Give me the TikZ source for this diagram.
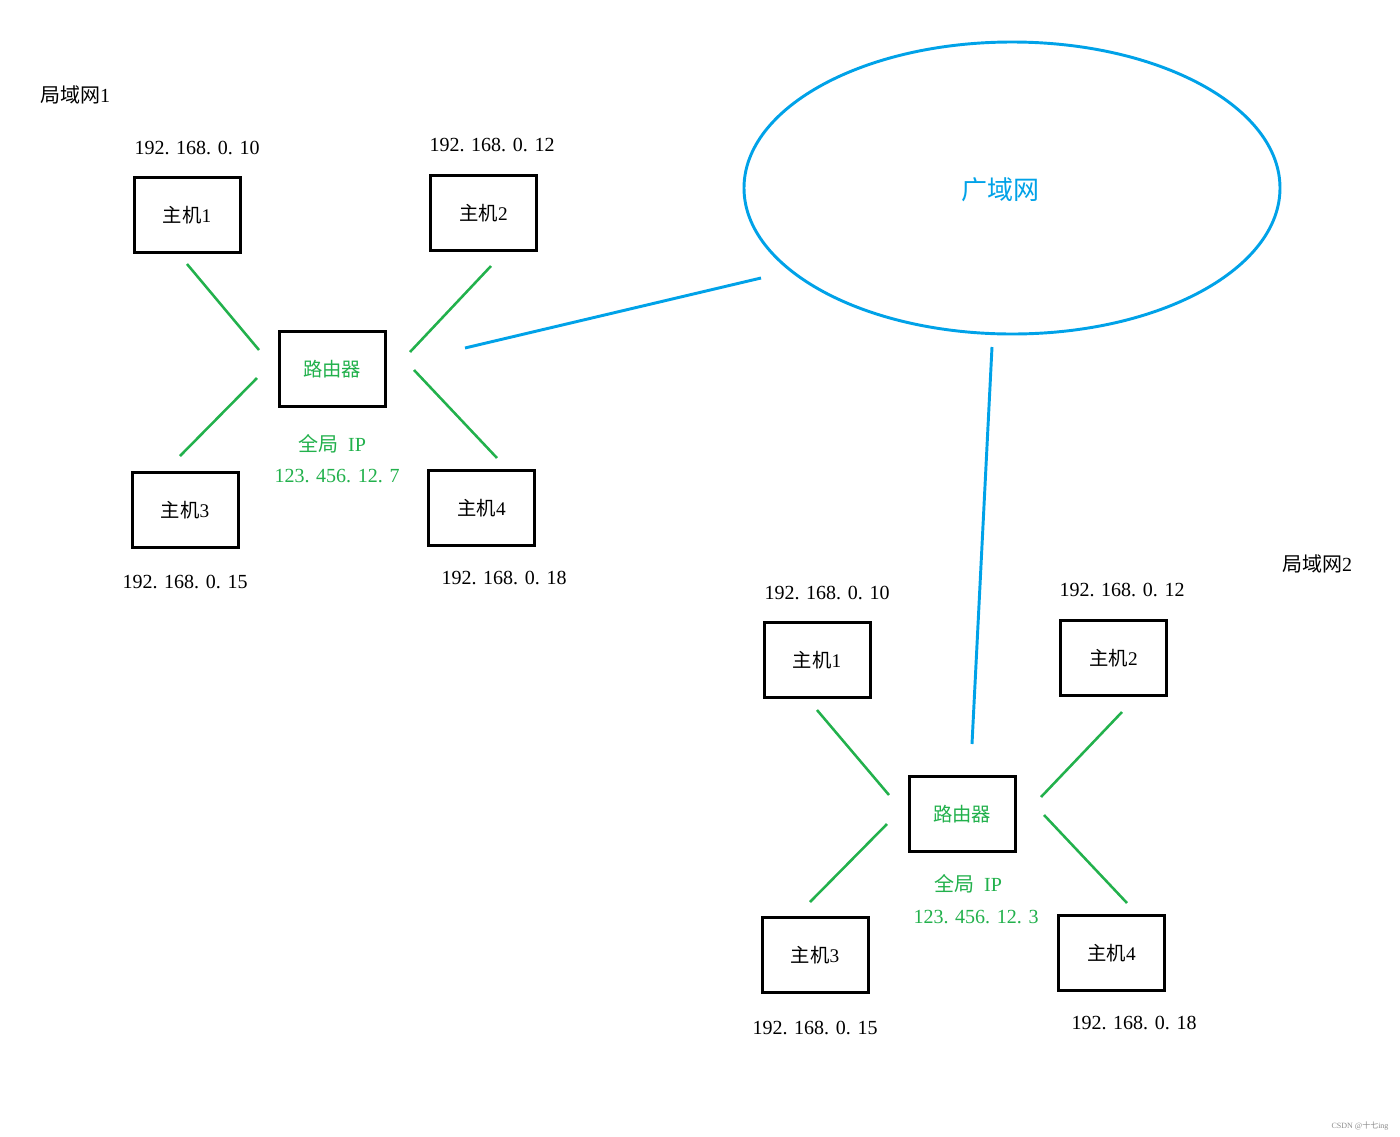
\documentclass[tikz,border=0pt]{standalone}
\usepackage{fontspec}
\usetikzlibrary{shapes.geometric}
\setmainfont{Liberation Serif}
\newfontfamily\cjk{Noto Sans CJK SC}
\definecolor{pgreen}{RGB}{34,177,76}
\definecolor{pblue}{RGB}{0,162,232}
\begin{document}
\begin{tikzpicture}[x=0.75pt,y=-0.75pt,
  hostbox/.style={draw=black,line width=2.25pt,minimum width=79.5pt,minimum height=56.5pt,inner sep=0pt,font=\fontsize{14.5}{16}\selectfont},
  lbl/.style={inner sep=0pt,font=\fontsize{15}{17}\selectfont},
  glink/.style={draw=pgreen,line width=1.9pt},
  blink/.style={draw=pblue,line width=2.2pt}]
\useasboundingbox[fill=white] (0,0) rectangle (1400,1136);

% ---------- LAN 1 ----------
\node[lbl] (lan1) at (75,95) {{\cjk 局域网}1};
\node[lbl] (a10) at (197,148) {192. 168. 0. 10};
\node[hostbox] (h1) at (187,215) {{\cjk 主机}1};
\node[lbl] (a12) at (492,145) {192. 168. 0. 12};
\node[hostbox] (h2) at (483.5,213) {{\cjk 主机}2};
\node[hostbox,text=pgreen] (r1) at (332,369) {\cjk 路由器};
\node[lbl,text=pgreen] (g1) at (332,444) {{\cjk 全局}\ \ IP};
\node[lbl,text=pgreen] (ip1) at (337,476) {123. 456. 12. 7};
\node[hostbox] (h3) at (185,510) {{\cjk 主机}3};
\node[lbl] (a15) at (185,582) {192. 168. 0. 15};
\node[hostbox] (h4) at (481.5,508) {{\cjk 主机}4};
\node[lbl] (a18) at (504,578) {192. 168. 0. 18};

\coordinate (h1e) at (187,264); \coordinate (r1a) at (259,350);
\coordinate (h2e) at (491,266); \coordinate (r1b) at (410,352);
\coordinate (h3e) at (180,456); \coordinate (r1c) at (257,378);
\coordinate (h4e) at (497,458); \coordinate (r1d) at (414,370);
\draw[glink] (h1e) -- (r1a);
\draw[glink] (h2e) -- (r1b);
\draw[glink] (r1c) -- (h3e);
\draw[glink] (r1d) -- (h4e);

% ---------- WAN ----------
\node[draw=pblue,line width=2.2pt,ellipse,minimum width=402pt,minimum height=219pt,inner sep=0pt] (wan) at (1012,188) {};
\node[inner sep=0pt,text=pblue,font=\cjk\fontsize{19.5}{21}\selectfont] (wanl) at (1000,190) {广域网};
\coordinate (r1w) at (465,348); \coordinate (wa) at (761,278);
\coordinate (wb) at (992,347); \coordinate (r2w) at (972,744);
\draw[blink] (r1w) -- (wa);
\draw[blink] (wb) -- (r2w);

% ---------- LAN 2 ----------
\node[lbl] (lan2) at (1317,564) {{\cjk 局域网}2};
\node[lbl] (b10) at (827,593) {192. 168. 0. 10};
\node[hostbox] (k1) at (817,660) {{\cjk 主机}1};
\node[lbl] (b12) at (1122,590) {192. 168. 0. 12};
\node[hostbox] (k2) at (1113.5,658) {{\cjk 主机}2};
\node[hostbox,text=pgreen] (r2) at (962,814) {\cjk 路由器};
\node[lbl,text=pgreen] (g2) at (968,884) {{\cjk 全局}\ \ IP};
\node[lbl,text=pgreen] (ip2) at (976,917) {123. 456. 12. 3};
\node[hostbox] (k3) at (815,955) {{\cjk 主机}3};
\node[lbl] (b15) at (815,1028) {192. 168. 0. 15};
\node[hostbox] (k4) at (1111.5,953) {{\cjk 主机}4};
\node[lbl] (b18) at (1134,1023) {192. 168. 0. 18};

\coordinate (k1e) at (817,710); \coordinate (r2a) at (889,795);
\coordinate (k2e) at (1122,712); \coordinate (r2b) at (1041,797);
\coordinate (k3e) at (810,902); \coordinate (r2c) at (887,824);
\coordinate (k4e) at (1127,903); \coordinate (r2d) at (1044,815);
\draw[glink] (k1e) -- (r2a);
\draw[glink] (k2e) -- (r2b);
\draw[glink] (r2c) -- (k3e);
\draw[glink] (r2d) -- (k4e);

% watermark
\node[inner sep=0pt,text=black!45,font=\fontsize{6}{7}\selectfont] (wm) at (1360,1126) {CSDN @{\cjk 十七}ing};
\end{tikzpicture}
\end{document}
